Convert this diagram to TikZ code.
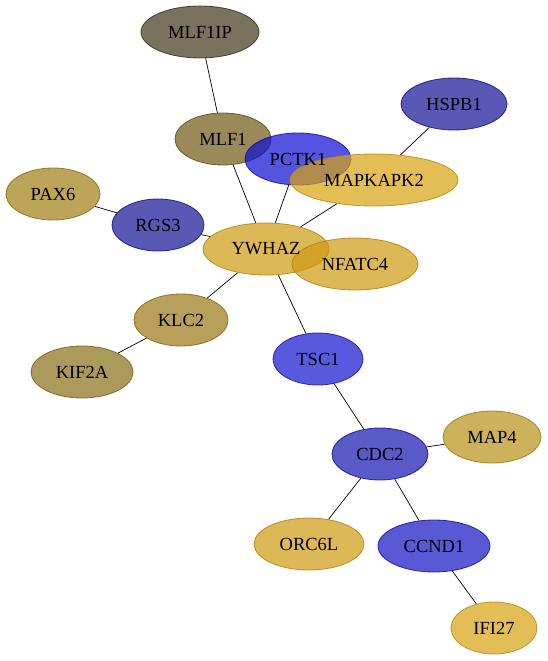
\documentclass[tikz,border=0pt]{standalone}
\usepackage{fontspec}
\setmainfont{Liberation Serif}
\usetikzlibrary{shapes.geometric,backgrounds}
\pgfdeclarelayer{labels}
\pgfsetlayers{background,main,labels}
\definecolor{mlfdark}{HTML}{41361C}
\definecolor{mlfmid}{HTML}{6F5813}
\definecolor{paxolive}{HTML}{9F7D13}
\definecolor{klcolive}{HTML}{9A7716}
\definecolor{kifolive}{HTML}{886F16}
\definecolor{mapgold}{HTML}{B69116}
\definecolor{gold}{HTML}{CD9A10}
\definecolor{brightgold}{HTML}{D7A310}
\definecolor{pctkblue}{HTML}{0C0CD3}
\definecolor{tscblue}{HTML}{1313D0}
\definecolor{ccndblue}{HTML}{1313C5}
\definecolor{cdcblue}{HTML}{1313B0}
\definecolor{grayblue}{HTML}{131396}
\tikzset{every gene/.style={ellipse, inner sep=0pt, minimum height=52pt,
                            fill opacity=0.7, draw opacity=0.85, line width=0.8pt},
        gene/.style={every gene, fill=#1, draw=#1!85!black},
        gene text/.style={inner sep=0pt, font=\fontsize{18.5}{20}\selectfont},
        link/.style={draw=black, line width=0.7pt},
        }
\begin{document}
\begin{tikzpicture}[x=1pt,y=-1pt]
    \useasboundingbox (0,0) rectangle (548,661);

    \node[gene=mlfdark, minimum width=118pt] (MLF1IP) at (200,32) {};
    \node[gene=mlfmid, minimum width=96pt] (MLF1) at (223,139) {};
    \node[gene=pctkblue, minimum width=106pt] (PCTK1) at (298,159) {};
    \node[gene=brightgold, minimum width=168pt] (MAPKAPK2) at (374,180) {};
    \node[gene=grayblue, minimum width=106pt] (HSPB1) at (454,104) {};
    \node[gene=paxolive, minimum width=94pt] (PAX6) at (53,194) {};
    \node[gene=grayblue, minimum width=92pt] (RGS3) at (158,225) {};
    \node[gene=gold, minimum width=126pt] (YWHAZ) at (266,249) {};
    \node[gene=gold, minimum width=126pt] (NFATC4) at (355,264) {};
    \node[gene=klcolive, minimum width=94pt] (KLC2) at (181,320) {};
    \node[gene=kifolive, minimum width=102pt] (KIF2A) at (82,372) {};
    \node[gene=tscblue, minimum width=90pt] (TSC1) at (318,359) {};
    \node[gene=cdcblue, minimum width=96pt] (CDC2) at (380,454) {};
    \node[gene=mapgold, minimum width=98pt] (MAP4) at (492,437) {};
    \node[gene=gold, minimum width=110pt] (ORC6L) at (309,544) {};
    \node[gene=ccndblue, minimum width=112pt] (CCND1) at (434,546) {};
    \node[gene=brightgold, minimum width=86pt] (IFI27) at (494,628) {};

    % gene names, above every ellipse
    \begin{pgfonlayer}{labels}
        \foreach \g in {MLF1IP,MLF1,PCTK1,MAPKAPK2,HSPB1,PAX6,RGS3,YWHAZ,NFATC4,
                        KLC2,KIF2A,TSC1,CDC2,MAP4,ORC6L,CCND1,IFI27}
            \node[gene text] (\g-name) at (\g) {\g};
    \end{pgfonlayer}

    % interactions, under the genes
    \begin{scope}[on background layer]
        \draw [link] (MLF1IP) -- (MLF1);
        \draw [link] (MLF1) -- (YWHAZ);
        \draw [link] (PCTK1) -- (YWHAZ);
        \draw [link] (MAPKAPK2) -- (YWHAZ);
        \draw [link] (MAPKAPK2) -- (HSPB1);
        \draw [link] (PAX6) -- (RGS3);
        \draw [link] (RGS3) -- (YWHAZ);
        \draw [link] (YWHAZ) -- (KLC2);
        \draw [link] (KLC2) -- (KIF2A);
        \draw [link] (YWHAZ) -- (TSC1);
        \draw [link] (TSC1) -- (CDC2);
        \draw [link] (CDC2) -- (MAP4);
        \draw [link] (CDC2) -- (ORC6L);
        \draw [link] (CDC2) -- (CCND1);
        \draw [link] (CCND1) -- (IFI27);
    \end{scope}

\end{tikzpicture}
\end{document}
